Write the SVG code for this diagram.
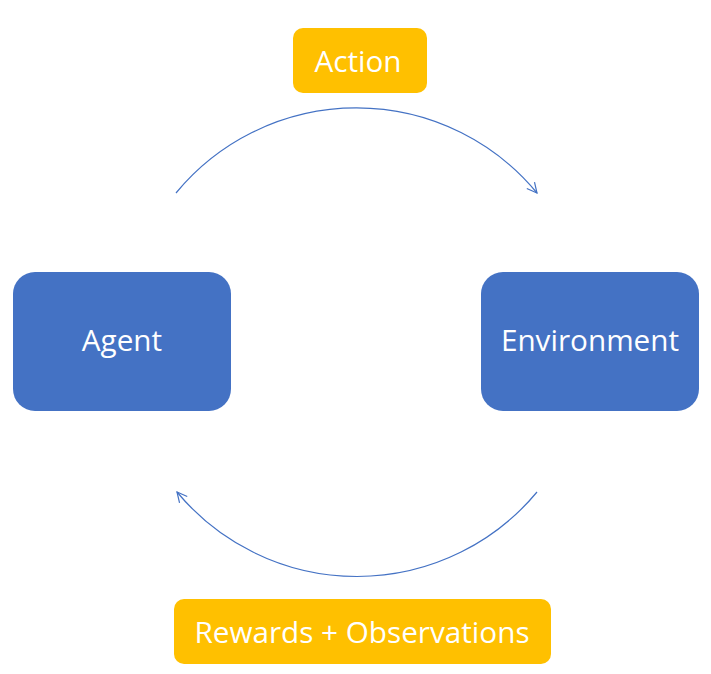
<svg xmlns="http://www.w3.org/2000/svg" width="711" height="674" viewBox="0 0 711 674">
<style>
.node{fill:#4472C4}
.lbl{fill:#FFC000}
.t{font-family:"Open Sans","Liberation Sans",sans-serif;font-size:29.7px;fill:#fff;text-anchor:middle;dominant-baseline:central}
.arc{fill:none;stroke:#4472C4;stroke-width:1.2}
</style>
<defs>
<marker id="ah" viewBox="0 0 12 12" refX="11" refY="6" markerWidth="12" markerHeight="12" markerUnits="userSpaceOnUse" orient="auto">
<path d="M1,1 L11,6 L1,11" fill="none" stroke="#4472C4" stroke-width="1.2"/>
</marker>
</defs>
<rect width="711" height="674" fill="#fff"/>
<g id="connectors">
<path class="arc" d="M176,193 A234,234 0 0 1 537,193" marker-end="url(#ah)"/>
<path class="arc" d="M537,492 A234,234 0 0 1 177,492" marker-end="url(#ah)"/>
</g>
<g id="agent">
<rect class="node" x="13" y="272" width="218" height="139" rx="22"/>
<text class="t" x="122" y="339">Agent</text>
</g>
<g id="environment">
<rect class="node" x="481" y="272" width="218" height="139" rx="22"/>
<text class="t" x="590" y="339">Environment</text>
</g>
<g id="action">
<rect class="lbl" x="293" y="28" width="134" height="65" rx="10"/>
<text class="t" x="358" y="60">Action</text>
</g>
<g id="rewards">
<rect class="lbl" x="174" y="599" width="377" height="65" rx="10"/>
<text class="t" x="362" y="631">Rewards + Observations</text>
</g>
</svg>
